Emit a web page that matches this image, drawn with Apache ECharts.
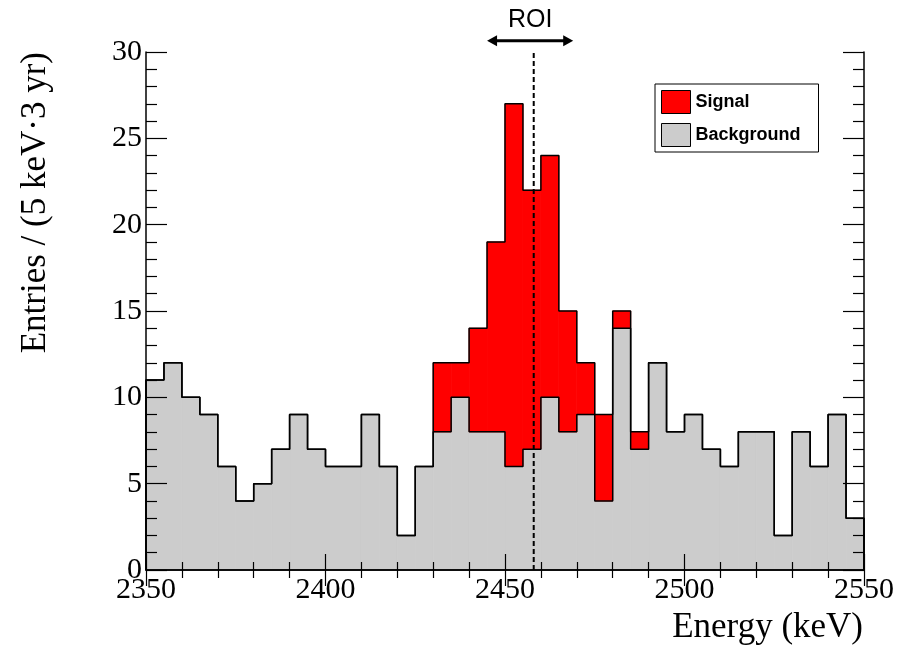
<!DOCTYPE html>
<html>
<head>
<meta charset="UTF-8">
<title>ROI histogram</title>
<script src="https://cdn.jsdelivr.net/npm/echarts@6/dist/echarts.min.js"></script>
<style>
  html, body { margin: 0; padding: 0; background: #fff; }
  #main { width: 897px; height: 648px; }
</style>
</head>
<body>
<div id="main"></div>
<script>
// bins: 5 keV wide, 2350 - 2550
var binStart = 2350;
var binWidth = 5;
var background = [11, 12, 10, 9, 6, 4, 5, 7, 9, 7, 6, 6, 9, 6, 2, 6, 8, 10, 8, 8,
                  6, 7, 10, 8, 9, 4, 14, 7, 12, 8, 9, 7, 6, 8, 8, 2, 8, 6, 9, 3];
var signal = [0, 0, 0, 0, 0, 0, 0, 0, 0, 0, 0, 0, 0, 0, 0, 0, 4, 2, 6, 11,
              21, 15, 14, 7, 3, 5, 1, 1, 0, 0, 0, 0, 0, 0, 0, 0, 0, 0, 0, 0];
var xTicks = [2350, 2400, 2450, 2500, 2550];
var yTicks = [0, 5, 10, 15, 20, 25, 30];
var qValue = 2458;        // dashed line
var roiRange = [2445, 2469];
var roiLevel = 30.65;     // height of the ROI arrow

var serif = '"Liberation Serif", "DejaVu Serif", serif';
var sans = '"Liberation Sans", Arial, sans-serif';

// rect data: [left edge, right edge, low, high]
var bkgRects = [], sigRects = [];
var total = [];
for (var i = 0; i < background.length; i++) {
    var x0 = binStart + i * binWidth;
    total.push(background[i] + signal[i]);
    bkgRects.push([x0, x0 + binWidth, 0, background[i]]);
    if (signal[i] > 0) sigRects.push([x0, x0 + binWidth, background[i], total[i]]);
}

// step outline points from bin values
function steps(vals) {
    var pts = [[binStart, 0]];
    for (var i = 0; i < vals.length; i++) {
        var x0 = binStart + i * binWidth;
        pts.push([x0, vals[i]]);
        pts.push([x0 + binWidth, vals[i]]);
    }
    pts.push([binStart + vals.length * binWidth, 0]);
    return pts;
}

function renderRect(params, api) {
    var p0 = api.coord([api.value(0), api.value(3)]);
    var p1 = api.coord([api.value(1), api.value(2)]);
    var c = api.visual('color');
    return {
        type: 'rect',
        shape: { x: p0[0], y: p0[1], width: p1[0] - p0[0], height: p1[1] - p0[1] },
        style: { fill: c, stroke: c, lineWidth: 0.8 }
    };
}

// ROI double arrow + label
function renderRoi(params, api) {
    var a = api.coord([api.value(0), api.value(2)]);
    var b = api.coord([api.value(1), api.value(2)]);
    var y = a[1], hl = 10, hw = 5.5;
    return {
        type: 'group',
        children: [
            { type: 'line', shape: { x1: a[0] + hl - 1, y1: y, x2: b[0] - hl + 1, y2: y },
              style: { stroke: '#000', lineWidth: 3 } },
            { type: 'polygon', shape: { points: [[a[0], y], [a[0] + hl, y - hw], [a[0] + hl, y + hw]] },
              style: { fill: '#000' } },
            { type: 'polygon', shape: { points: [[b[0], y], [b[0] - hl, y - hw], [b[0] - hl, y + hw]] },
              style: { fill: '#000' } },
            { type: 'text', x: (a[0] + b[0]) / 2, y: y - 8,
              style: { text: 'ROI', font: '25px ' + sans, fill: '#000',
                       textAlign: 'center', textVerticalAlign: 'bottom' } }
        ]
    };
}

var myChart = echarts.init(document.getElementById('main'));

var xAxisBase = {
    type: 'value', min: xTicks[0], max: xTicks[xTicks.length - 1], interval: 50,
    z: 10,
    axisLine: { lineStyle: { color: '#000', width: 1.5 } },
    axisTick: { inside: true, length: 16, lineStyle: { color: '#000', width: 1.2 } },
    minorTick: { show: true, splitNumber: 5, length: 8, lineStyle: { color: '#000', width: 1.2 } },
    splitLine: { show: false }
};
var yAxisBase = {
    type: 'value', min: yTicks[0], max: yTicks[yTicks.length - 1], interval: 5,
    z: 10,
    axisLine: { show: true, lineStyle: { color: '#000', width: 1.5 } },
    axisTick: { show: true, inside: true, length: 21, lineStyle: { color: '#000', width: 1.2 } },
    minorTick: { show: true, splitNumber: 5, length: 11, lineStyle: { color: '#000', width: 1.2 } },
    splitLine: { show: false }
};

option = {
    animation: false,
    backgroundColor: '#fff',
    grid: { left: 146, right: 32, top: 52, bottom: 78 },
    legend: {
        orient: 'vertical',
        left: 655, top: 84,
        padding: [6, 18, 5, 6],
        itemWidth: 29, itemHeight: 23, itemGap: 9,
        backgroundColor: '#fff',
        borderColor: '#000', borderWidth: 1,
        textStyle: { fontFamily: sans, fontSize: 18, fontWeight: 'bold', color: '#000' },
        data: [
            { name: 'Signal', icon: 'rect', itemStyle: { color: '#ff0000', borderColor: '#000', borderWidth: 1 } },
            { name: 'Background', icon: 'rect', itemStyle: { color: '#cccccc', borderColor: '#000', borderWidth: 1 } }
        ]
    },
    xAxis: [
        Object.assign({}, xAxisBase, {
            position: 'bottom',
            axisLabel: { color: '#000', fontFamily: serif, fontSize: 30, margin: 5,
                         formatter: function (v) { return String(v); } }
        }),
        Object.assign({}, xAxisBase, { position: 'top', axisLabel: { show: false } })
    ],
    yAxis: [
        Object.assign({}, yAxisBase, {
            position: 'left',
            axisLabel: { color: '#000', fontFamily: serif, fontSize: 30, margin: 4 }
        }),
        Object.assign({}, yAxisBase, { position: 'right', axisLabel: { show: false } })
    ],
    graphic: [
        {
            type: 'text', x: 36, y: 52, rotation: Math.PI / 2,
            style: { text: 'Entries / (5 keV\u00b73 yr)', font: '35px ' + serif, fill: '#000',
                     textAlign: 'right', textVerticalAlign: 'middle' }
        },
        {
            type: 'text', x: 863, y: 628,
            style: { text: 'Energy (keV)', font: '35px ' + serif, fill: '#000',
                     textAlign: 'right', textVerticalAlign: 'middle' }
        }
    ],
    series: [
        {
            name: 'Background', type: 'custom', renderItem: renderRect,
            itemStyle: { color: '#cccccc' }, encode: { x: [0, 1], y: [2, 3] },
            data: bkgRects, z: 2
        },
        {
            name: 'Signal', type: 'custom', renderItem: renderRect,
            itemStyle: { color: '#ff0000' }, encode: { x: [0, 1], y: [2, 3] },
            data: sigRects, z: 2
        },
        {
            name: 'bkgOutline', type: 'line', data: steps(background), symbol: 'none',
            lineStyle: { color: '#000', width: 1.5 }, z: 3, silent: true
        },
        {
            name: 'totalOutline', type: 'line', data: steps(total), symbol: 'none',
            lineStyle: { color: '#000', width: 1.5 }, z: 3, silent: true
        },
        {
            name: 'qLine', type: 'line', data: [[qValue, 0], [qValue, 30]], symbol: 'none',
            lineStyle: { color: '#000', width: 2, type: [5, 3] }, z: 4, silent: true
        },
        {
            name: 'roi', type: 'custom', renderItem: renderRoi, clip: false, silent: true,
            encode: { x: [0, 1], y: 2 },
            data: [[roiRange[0], roiRange[1], roiLevel]], z: 5
        }
    ]
};
myChart.setOption(option);
</script>
</body>
</html>
